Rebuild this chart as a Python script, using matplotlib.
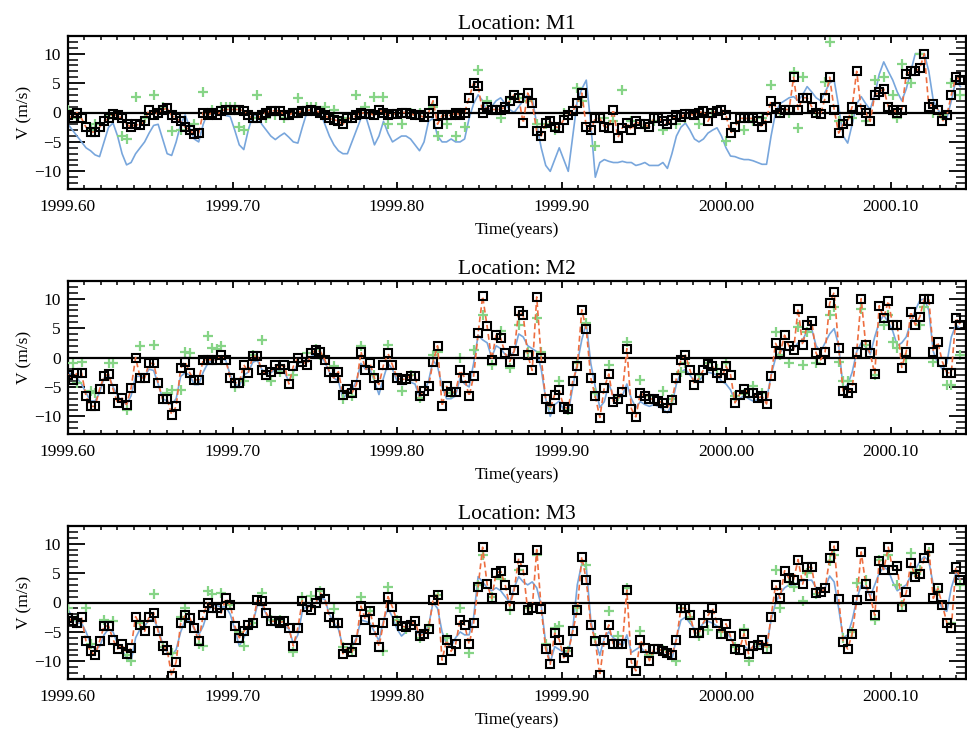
import numpy as np
import matplotlib
matplotlib.use("Agg")
import matplotlib.pyplot as plt
from matplotlib.ticker import MultipleLocator, FixedLocator

plt.rcParams['font.family'] = ['Liberation Serif', 'DejaVu Serif']

T0 = 1999.60
DAY = 1.0 / 365.0

titles = ["Location: M1", "Location: M2", "Location: M3"]
xticks = [1999.60, 1999.70, 1999.80, 1999.90, 2000.00, 2000.10]
xticklabels = ["1999.60", "1999.70", "1999.80", "1999.90", "2000.00", "2000.10"]
yticks = [-10, -5, 0, 5, 10]

# ---------------- M1 ----------------
m1_sq = [
    -0.5, -1, 0, -1, -2.5, -3.3, -3.3, -2.5, -1.5, -1,
    -0.3, -0.5, -1, -2, -2.5, -2, -2.2, -1.5, 0.5, -0.5,
    0, 0.5, 0.7, -0.5, -1, -1.5, -2.5, -3, -3.7, -3.5,
    0, -0.5, 0, -0.5, 0.3, 0.5, 0.5, 0.5, 0.5, 0.3,
    -0.5, -1, -1, -0.5, 0, 0.3, 0.3, 0.3, -0.5, -0.5,
    0, 0, 0.3, 0.3, 0.5, 0.3, 0, -0.5, -1, -1.2,
    -1.5, -2, -1, -1, -0.5, 0, -0.2, -0.2, -0.5, 0.5,
    0, -0.5, -0.3, -0.2, 0, 0, -0.2, -0.5, -0.5, -0.8,
    0, 2, -2, -0.5, -0.5, -0.5, 0, -0.5, 0, 2.5,
    5, 4.5, 0, 1, 0.5, 0.5, 0.5, 1, 2, 3,
    2.5, -1.8, 3.3, 1.6, -3.2, -4, -1.8, -1.5, -2.4, -2.6,
    -1.2, -0.4, 0.2, 1.6, 3.3, -2.4, -3, -1, -1, -2.4,
    -2.6, 0.5, -4.3, -2.6, -1.8, -3, -1.5, -2, -2, -2.5,
    -1, -1, -1.5, -2, -1.2, -0.5, -0.8, -0.3, -0.3, -0.5,
    0, 0.2, -1.5, 0, 0.2, 0.5, -0.5, -3.5, -2.5, -1,
    -1, -1, -1, -1.5, -2.5, -1, 2, 1, 0, 0.5,
    0.5, 6, 0.5, 2.5, 2.5, 1, 0, -0.3, 2.5, 6,
    0.5, -3.5, -2, -1.5, 1, 7, 0.5, 0, -1.5, 3,
    3.5, 4, 1, 0.5, 0, 0.5, 6.5, 7, 7, 7.5,
    10, 1, 1.5, 0.5, -1.5, -0.5, 3, 6, 5.5,
]
m1_blue = [
    -2, -3, -4, -5, -6, -6.5, -7.2, -7.5, -5, -2.5,
    -1.8, -4, -7, -8.9, -8.5, -7, -6, -5, -3.5, -2.2,
    -2, -4.5, -7, -7.3, -5, -2, -0.4, -2.5, -4.5, -5,
    -2, 0, -0.2, -0.3, -0.3, -0.5, -0.7, -3, -5.5, -6.3,
    -3, -0.5, -0.5, -2, -3, -4, -4.6, -4, -3.5, -4.2,
    -5, -5.2, -2.5, 0, 0, 0, 0, -2, -4, -5.5,
    -6.5, -7, -7, -5, -3, -1, -0.5, -3, -5.5, -4,
    -1.5, -3.5, -5, -4.5, -4, -4, -4.5, -5.5, -6.5, -5,
    -1.5, -1, -4, -5, -5, -4.5, -5, -5, -4.5, -1,
    1.5, 3, 2, 0, 1, 2, 2.5, 1.5, 0.5, 0,
    1, 2, 3, 2.5, -2, -6, -9, -10, -8, -6,
    -8, -10, -4, 2, 4, 5.5, -2, -11, -8.5, -8,
    -8.3, -8.5, -8.5, -8.3, -8.5, -8.5, -9, -8.8, -8.5, -9,
    -9, -9, -8.5, -9.5, -7, -4, -2.5, -1.8, -3, -4.5,
    -5, -4.5, -3.5, -3, -2.6, -4, -6, -7.4, -7.5, -7.8,
    -8, -8, -8.2, -8.5, -8.8, -8.8, -4, 0, 1.5, 2,
    2.5, 2.7, 2, 3, 4.4, 3.5, 2.5, 2, 3.5, 5,
    5.5, 1, -4, -5.2, -2, 1.5, 2.7, 1.5, 0.5, 3,
    6.5, 8.6, 7, 5.5, 3.5, 2, 4, 7, 10, 10,
    10, 7, 2, 0.5, -0.5, -1, 2, 5.5, 4.4,
]
m1_g_day = [0, 2, 5, 6, 9, 12, 13, 15, 17, 19, 21, 23, 25, 28, 30, 32, 34, 35, 36, 37,
            38, 39, 41, 42, 44, 46, 48, 51, 53, 54, 55, 57, 59, 61, 64, 66, 68, 70, 71, 74,
            76, 78, 81, 82, 84, 86, 88, 91, 93, 96, 98, 100, 102, 104, 106, 108, 110, 113, 114, 117,
            119, 121, 123, 125, 128, 130, 132, 135, 137, 140, 143, 146, 150, 152, 154, 156, 158, 160, 161, 162,
            163, 166, 168, 169, 171, 174, 177, 179, 181, 183, 184, 185, 187, 189, 192, 194, 196, 198]
m1_g_val = [0.5, -1, -3, -2, -0.5, -4, -4.5, 2.7, -1, 3.0, 1, -3.2, -3, -2, 3.5, 0.5, 1, 1, 1, 1,
            -2.4, -3, -1, 3.0, -1, -0.5, -1, 2.4, 1, 1, 1, 1, 0.5, -1, 3.0, 1, 2.7, 2.7, -2, -2,
            0, 0, 1, -4, -2, -4, -2.4, 7.2, 2, -1, 2.5, 2.4, 2, -2, -2, -3, 0, 4.1, 2, -5.7,
            -1, -1.5, 3.8, -1.5, -2.5, -1.5, -2.9, -2, -1, -2, 0, -4.9, -2.9, -1.5, -1, 4.7, 0, 0, 6.9, -2.6,
            6, 0, 5.2, 12, -1.5, -1, -1.5, 5.5, 6.0, 3, -1, 8.3, 5, 10, 0, -0.5, 5, 3]

# ---------------- M2 ----------------
m2_sq = [
    -2.9, -3.8, -2.6, -2.6, -6.6, -8.3, -8.3, -5.4, -3.2, -2.8,
    -5.4, -7.7, -6.9, -8.0, -5.2, 0.0, -3.4, -3.5, -1.0, -1.0,
    -4.3, -7.1, -7.1, -9.7, -8.3, -1.8, -0.7, -2.6, -3.8, -3.8,
    -0.4, -0.4, -0.4, -0.4, 0.4, -0.4, -3.5, -4.3, -4.3, -1.2,
    -2.6, 0.2, 0.2, -2.2, -2.9, -2.4, -1.3, -1.9, -1.2, -4.5,
    -1.5, -0.1, -0.7, -1.2, 0.7, 1.3, 1.0, -0.4, -2.4, -3.5,
    -2.4, -6.3, -5.4, -6.0, -4.6, 1.0, -2.1, -1.0, -3.5, -4.6,
    -1.3, 0.7, -1.3, -3.4, -3.8, -3.6, -3.1, -3.1, -6.6, -5.7,
    -4.9, -0.7, 2.0, -8.3, -4.9, -5.9, -5.9, -2.2, -3.4, -6.6,
    -3.2, 4.1, 10.4, 5.3, -0.4, 3.9, 3.3, 0.7, -0.7, 1.1,
    7.9, 7.2, 0.4, -2.2, 10.3, -0.1, -7.1, -8.7, -6.3, -5.6,
    -8.4, -8.7, -4.0, -1.5, 8.1, 4.8, -3.5, -6.6, -10.2, -5.1,
    -2.8, -7.5, -7.0, -5.9, 1.5, -8.7, -10.1, -6.0, -6.6, -7.0,
    -7.1, -7.4, -7.7, -8.5, -7.3, -3.5, -0.4, 0.4, -2.1, -4.6,
    -3.5, -2.1, -1.1, -1.5, -2.6, -3.5, -1.5, -2.9, -7.7, -6.3,
    -5.4, -6.0, -6.0, -6.9, -6.6, -7.9, -3.2, 2.4, 0.7, 3.8,
    1.9, 1.3, 8.3, 2.1, 5.5, 6.2, 0.7, -0.4, 1.0, 9.2,
    11.1, 1.6, -5.7, -6.0, -5.1, 1.0, 10.0, 2.2, 0.7, -2.8,
    8.8, 6.7, 9.6, 5.5, 5.5, -1.7, 1.0, 7.8, 5.5, 6.9,
    10.0, 10.0, 1.0, 2.6, -0.7, -2.6, -2.6, 6.7, 5.6,
]
m2_blue = [
    -2.5, -3.0, -3.5, -4.5, -6.0, -7.4, -7.4, -6.0, -3.5, -3.0,
    -5.0, -6.5, -7.5, -8.0, -6.5, -3.2, -3.2, -3.2, -2.0, -2.2,
    -4.5, -7.0, -7.4, -8.0, -7.0, -3.2, -2.6, -3.0, -4.6, -4.6,
    -2.5, -1.0, -0.5, -0.2, -0.1, -0.5, -3.0, -4.5, -4.9, -3.0,
    -2.5, -0.8, -0.5, -2.0, -2.8, -2.6, -2.0, -2.2, -2.5, -4.0,
    -2.5, -1.0, -0.8, -0.6, 0.2, 0.5, 0.3, -0.8, -2.5, -3.5,
    -4.0, -7.0, -6.0, -5.5, -4.0, -1.0, -2.0, -2.0, -4.0, -6.3,
    -3.5, -1.0, -2.0, -4.0, -4.6, -4.5, -4.2, -4.5, -6.8, -6.0,
    -4.0, -0.5, -1.5, -5.0, -7.0, -7.0, -6.5, -3.5, -4.5, -5.0,
    -1.0, 3.8, 3.0, 2.5, 0.0, 2.0, 1.5, 0.5, 0.3, 1.0,
    4.0, 3.5, 2.0, 1.5, 1.0, -2.0, -7.0, -10.0, -8.0, -7.4,
    -9.0, -9.4, -5.0, -1.0, 3.0, 5.8, -1.0, -5.0, -8.5, -7.5,
    -4.5, -6.5, -7.0, -6.5, -4.5, -7.0, -8.5, -7.5, -8.0, -8.3,
    -8.0, -8.3, -8.8, -9.4, -8.0, -4.5, -2.5, -2.0, -3.0, -4.0,
    -4.0, -3.0, -2.5, -2.7, -3.0, -4.0, -4.5, -5.5, -7.4, -7.0,
    -6.5, -7.0, -7.4, -7.2, -7.2, -7.2, -3.0, -0.1, 1.0, 1.5,
    1.2, 1.5, 2.5, 3.0, 4.5, 4.9, 2.0, 1.0, 2.5, 4.0,
    4.9, 2.0, -5.2, -4.6, -2.5, 1.0, 2.5, 1.8, 0.5, 3.5,
    6.0, 7.2, 6.0, 4.5, 2.0, 2.5, 3.5, 6.0, 8.0, 9.7,
    10.0, 8.0, 1.0, -1.0, -2.0, -1.0, 3.5, 5.5, 4.9,
]
m2_g_day = [1, 2, 3, 5, 6, 9, 10, 13, 16, 19, 22, 23, 25, 26, 27, 31, 32, 33, 34, 37,
            39, 41, 43, 45, 47, 50, 53, 55, 56, 59, 61, 63, 65, 68, 71, 74, 76, 78, 81, 82,
            85, 87, 90, 92, 94, 96, 98, 100, 102, 104, 105, 107, 109, 111, 113, 115, 117, 120, 122, 124,
            127, 129, 132, 134, 136, 137, 140, 142, 144, 146, 148, 150, 152, 154, 157, 158, 160, 162, 163, 164,
            166, 169, 170, 171, 172, 173, 176, 177, 179, 181, 182, 183, 184, 186, 189, 190, 192, 195, 196, 198]
m2_g_val = [-1, -4.3, -0.7, -5.7, -6, -1, -1, -9, 1.9, 2.1, -6, -5.6, -5.6, 1, 0.7, 3.7, 1.6, 1.5, 1.9, -5,
            -4, 0.5, 3.0, -4, -2.5, -3, 0.7, 1.5, 0.5, -1.5, -7.1, -6.5, 1.9, -3, 2.1, -5.7, -3, -6.9, 0.5, 1,
            -6, 0, 1.3, 7.2, -1.2, 4.5, -1.8, 5.5, 1, 6.7, 1, -8, -4, -9, -1, 5.9, -6, -1.3, -6.5, 2.7,
            -3.8, -6.5, -5.7, -7, -2.4, -1, -3, -1, -2, -1, -6.5, -6.2, -4.9, -6, 4.3, 0.4, -1, 5.2, -1.3, 4.3,
            -1, 7.3, 8.6, -0.7, -4, -4, 8.3, 2.1, -2.9, 5.5, 7.2, 2.7, 1.6, 0, 5.5, 8.6, -0.7, -4.6, -4.6, 0.4]

# ---------------- M3 ----------------
m3_sq = [
    -2.6, -3.2, -3.5, -2.5, -6.6, -8.3, -9.0, -6.6, -4.0, -4.0,
    -6.3, -7.9, -7.1, -8.7, -7.7, -2.4, -3.8, -4.9, -2.4, -1.7,
    -4.9, -7.4, -8.0, -12.5, -10.1, -3.5, -2.2, -2.6, -4.3, -6.6,
    -2.1, -0.1, -1.0, -1.0, -1.8, 0.7, -0.4, -4.0, -6.0, -4.9,
    -3.8, -3.5, 0.4, 0.2, -1.8, -3.2, -3.2, -3.4, -3.2, -4.3,
    -7.4, -4.3, 0.3, -0.7, -1.2, 0.0, 1.6, 0.6, -2.5, -3.5,
    -3.5, -8.7, -7.7, -8.4, -6.3, -0.6, -2.9, -1.5, -4.6, -7.5,
    -3.5, 1.0, -0.8, -3.2, -4.0, -4.2, -3.8, -3.2, -5.7, -5.3,
    -4.5, 0.4, 1.3, -9.8, -6.4, -8.3, -7.1, -2.9, -3.8, -7.1,
    -3.5, 2.7, 9.4, 3.1, 0.7, 5.0, 5.3, 3.0, -0.6, 2.1,
    7.5, 5.5, -1.3, -1.0, 9.0, -1.1, -7.9, -10.5, -5.2, -6.3,
    -9.4, -8.4, -4.9, -1.3, 7.8, 3.8, -3.8, -6.5, -12.4, -6.3,
    -3.8, -7.1, -7.1, -7.1, 2.1, -10.2, -11.6, -6.4, -7.7, -9.9,
    -7.9, -7.9, -8.3, -8.5, -8.9, -6.3, -1.0, -1.0, -2.1, -5.2,
    -5.2, -3.4, -2.2, -1.0, -3.4, -5.3, -3.6, -5.7, -7.9, -8.0,
    -5.3, -8.7, -7.4, -7.3, -6.4, -7.9, -2.5, 3.0, 0.7, 5.4,
    4.1, 3.9, 7.3, 3.1, 6.0, 6.0, 1.6, 1.7, 2.4, 7.5,
    9.6, 0.6, -6.7, -7.9, -5.3, 0.4, 8.6, 3.1, 1.1, -2.2,
    7.1, 5.6, 9.4, 5.6, 6.2, -0.8, 1.7, 6.7, 4.3, 4.8,
    7.5, 9.2, 0.7, 2.4, -0.4, -3.4, -4.3, 6.0, 3.9,
]
m3_blue = [
    -1.2, -2.5, -3.5, -3.5, -5.0, -7.0, -8.0, -7.5, -5.5, -4.5,
    -5.0, -7.0, -8.0, -9.5, -10.0, -6.0, -4.5, -4.0, -3.0, -2.8,
    -4.5, -7.0, -8.5, -9.0, -8.0, -5.0, -3.0, -3.0, -4.5, -5.5,
    -4.0, -1.5, -0.5, -0.5, -0.8, -0.7, -2.0, -4.5, -7.4, -6.0,
    -4.5, -3.5, -0.5, -0.5, -2.0, -3.5, -4.0, -4.0, -4.0, -4.5,
    -7.0, -5.5, -1.5, -0.5, -0.5, 0.0, 0.8, 0.5, -2.0, -3.5,
    -4.5, -7.5, -7.7, -7.5, -6.0, -3.0, -3.2, -3.5, -5.0, -6.5,
    -3.0, -1.0, -2.5, -4.5, -5.7, -5.0, -4.5, -4.5, -5.5, -5.0,
    -4.0, 0.0, -1.0, -5.0, -7.0, -7.5, -6.0, -5.0, -5.5, -5.5,
    -2.5, 4.4, 3.5, 2.5, 2.0, 2.5, 2.0, 1.0, 0.0, 2.5,
    4.4, 3.5, 3.0, 3.5, 2.5, -0.5, -7.0, -10.2, -7.5, -8.0,
    -8.5, -8.5, -4.5, 3.0, 6.6, 6.0, -3.0, -6.5, -9.0, -6.0,
    -5.0, -6.0, -6.5, -7.5, -5.5, -8.5, -8.0, -7.5, -8.5, -9.0,
    -8.5, -8.5, -8.7, -9.0, -9.7, -6.0, -3.0, -2.5, -3.5, -4.5,
    -4.5, -3.5, -3.2, -3.5, -4.0, -4.5, -5.0, -6.0, -7.4, -7.4,
    -7.4, -8.0, -7.6, -7.4, -7.4, -7.4, -3.0, -0.1, 1.5, 2.5,
    3.0, 2.7, 3.5, 3.7, 3.8, 3.8, 2.5, 2.0, 2.5, 4.5,
    3.5, -1.0, -6.0, -5.5, -3.0, 0.5, 3.0, 2.5, 1.0, 3.0,
    5.0, 6.0, 5.5, 3.5, 2.0, 2.5, 3.0, 4.5, 5.5, 7.0,
    7.8, 7.0, 3.0, 0.5, -1.0, -1.5, 2.5, 5.0, 3.8,
]
m3_g_day = [0, 2, 4, 5, 8, 10, 13, 14, 16, 19, 21, 23, 25, 26, 29, 30, 31, 32, 34, 36,
            38, 39, 41, 43, 45, 47, 50, 52, 54, 56, 59, 61, 63, 65, 67, 70, 71, 73, 75, 78,
            80, 82, 84, 87, 89, 91, 92, 94, 96, 98, 100, 102, 104, 106, 108, 109, 111, 113, 115, 117,
            120, 122, 124, 127, 129, 132, 135, 136, 138, 140, 142, 145, 148, 150, 151, 153, 155, 157, 158, 160,
            161, 163, 164, 166, 169, 170, 172, 174, 175, 177, 179, 180, 182, 184, 185, 187, 188, 189, 191, 193,
            196, 198]
m3_g_val = [-1, -3, -1, -7, -3, -3.2, -9, -10, -3.5, 1.5, -7.5, -8.5, -2.5, -1, -7, -7.4, 1.9, 1.5, 1.6, -0.5,
            -5, -7.4, -3.5, 1.6, -3, -3, -8.4, 1, 1.1, 1.9, -1.1, -7.5, -8, 0.9, -1.5, -8.3, 2.6, -3, -4.5, -6,
            -4, 1.3, -6, -1, -8.5, 3, 8, 1, 4, -1.2, 5.5, -1, 8, -7, -4.3, -4, -8.3, -1, 6.3, -6,
            -1.5, -5.7, 2.4, -4.9, -9, -8, -10, -1, -2.5, -5.7, -4.6, -5, -7.5, -4.5, -10, -7, -7.5, 5.5, -1, 3.5,
            2.6, 0.2, 5, 1.5, 7, 8, -6, -5, 3.3, 3.8, -2.9, 7.3, 8, 3, -0.5, 8.4, 5.2, 5.5, 8.6, 2,
            -3.5, 3]

panels = [
    (m1_sq, m1_blue, m1_g_day, m1_g_val),
    (m2_sq, m2_blue, m2_g_day, m2_g_val),
    (m3_sq, m3_blue, m3_g_day, m3_g_val),
]

W, H = 967, 729
fig = plt.figure(figsize=(W / 100, H / 100), dpi=100)

left_px, right_px = 68, 966
tops = [36, 281, 526]
ax_h_px = 153

x_left = 1999.60
x_right = 1999.60 + (right_px - left_px) / 1645.0

blue_c = '#78a6dc'
orange_c = '#ee6e40'
green_c = '#86d486'

for k, (sq, blue, gd, gv) in enumerate(panels):
    top = tops[k]
    ax = fig.add_axes([left_px / W, 1 - (top + ax_h_px) / H,
                       (right_px - left_px) / W, ax_h_px / H])
    t = T0 + np.arange(len(sq)) * DAY
    tg = T0 + np.array(gd) * DAY
    ax.plot(t, blue, color=blue_c, lw=1.2, zorder=2)
    ax.plot(tg, gv, linestyle='none', marker='+', ms=6.5, mew=1.6,
            color=green_c, zorder=3)
    ax.axhline(0, color='black', lw=1.6, zorder=4)
    ax.plot(t, sq, color=orange_c, lw=1.2, linestyle=(0, (3.5, 2)), zorder=5)
    ax.plot(t, sq, linestyle='none', marker='s', ms=5.2, mew=1.5,
            mfc='none', mec='black', zorder=6)

    ax.set_xlim(x_left, x_right)
    ax.set_ylim(-13, 13)
    ax.xaxis.set_major_locator(FixedLocator(xticks))
    ax.set_xticklabels(xticklabels)
    ax.xaxis.set_minor_locator(MultipleLocator(0.01))
    ax.yaxis.set_major_locator(FixedLocator(yticks))
    ax.yaxis.set_minor_locator(MultipleLocator(1))
    ax.tick_params(axis='x', which='major', direction='in', length=5, width=1.3,
                   top=True, bottom=True, labelsize=12.5, pad=7)
    ax.tick_params(axis='x', which='minor', direction='in', length=3, width=1.1,
                   top=True, bottom=True)
    ax.tick_params(axis='y', which='major', direction='in', length=12, width=1.3,
                   left=True, right=True, labelsize=12.5, pad=5)
    ax.tick_params(axis='y', which='minor', direction='in', length=7, width=1.1,
                   left=True, right=True)
    for s in ax.spines.values():
        s.set_linewidth(1.6)
    ax.set_title(titles[k], fontsize=15.5, pad=5)
    ax.set_xlabel("Time(years)", fontsize=12.5)
    ax.set_ylabel("V (m/s)", fontsize=12.5)
    ax.xaxis.set_label_coords(0.5, -0.215)
    ax.yaxis.set_label_coords(-0.040, 0.5)

fig.savefig("out.png", dpi=100)
